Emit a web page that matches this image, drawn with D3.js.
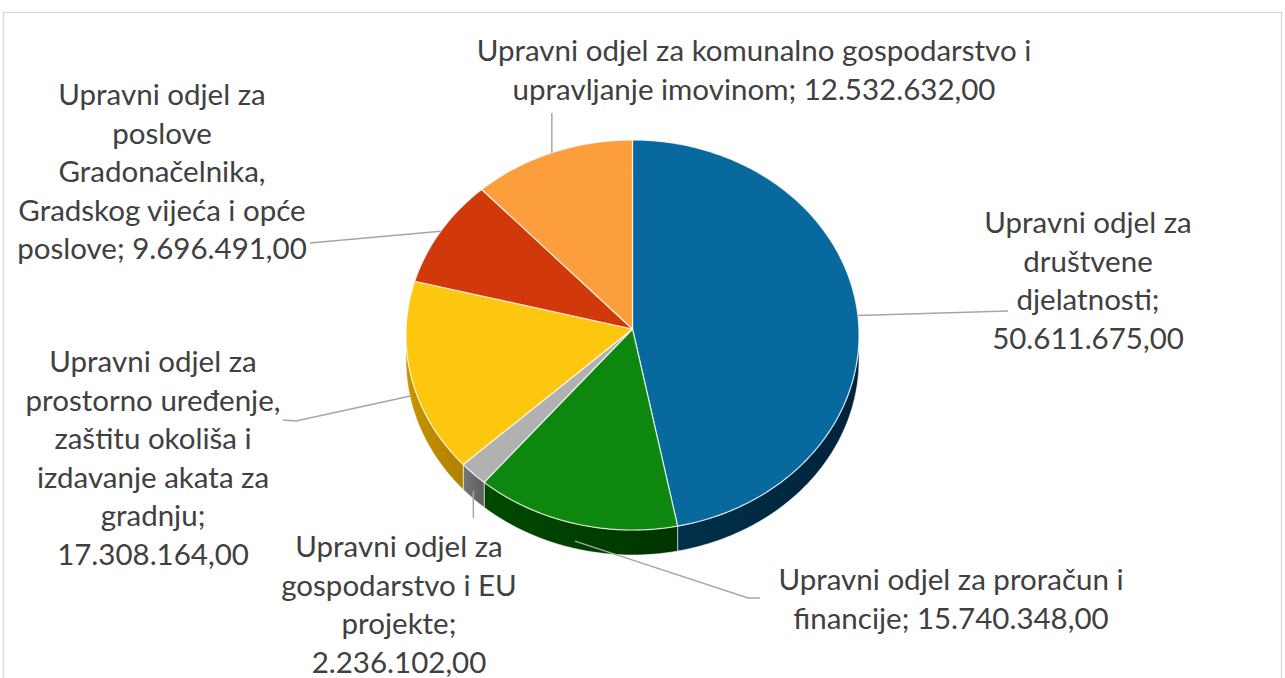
<!DOCTYPE html>
<html>
<head>
<meta charset="utf-8">
<script src="https://cdn.jsdelivr.net/npm/d3@7"></script>
<style>
  body { margin: 0; background: #fff; }
  svg text { font-family: Lato, 'Open Sans', sans-serif; font-size: 29.5px; fill: #404040; }
</style>
</head>
<body>
<div id="chart"></div>
<script>
// data, clockwise from 12 o'clock
const categories = [
  'Upravni odjel za društvene djelatnosti',
  'Upravni odjel za proračun i financije',
  'Upravni odjel za gospodarstvo i EU projekte',
  'Upravni odjel za prostorno uređenje, zaštitu okoliša i izdavanje akata za gradnju',
  'Upravni odjel za poslove Gradonačelnika, Gradskog vijeća i opće poslove',
  'Upravni odjel za komunalno gospodarstvo i upravljanje imovinom'
];
const values = [50611675, 15740348, 2236102, 17308164, 9696491, 12532632];

// how the labels wrap in the original ({v} is the formatted value)
const labelLines = [
  ['Upravni odjel za', 'društvene', 'djelatnosti;', '{v}'],
  ['Upravni odjel za proračun i', 'financije; {v}'],
  ['Upravni odjel za', 'gospodarstvo i EU', 'projekte;', '{v}'],
  ['Upravni odjel za', 'prostorno uređenje,', 'zaštitu okoliša i', 'izdavanje akata za', 'gradnju;', '{v}'],
  ['Upravni odjel za', 'poslove', 'Gradonačelnika,', 'Gradskog vijeća i opće', 'poslove; {v}'],
  ['Upravni odjel za komunalno gospodarstvo i', 'upravljanje imovinom; {v}']
];

const topColors = ['#08699e', '#0e870e', '#b1b1b1', '#fdc60f', '#d1390b', '#fd9e3c'];
const sideColors = [
  ['#01304a', '#00233a'],
  ['#004a00', '#003400'],
  ['#767676', '#5e5e5e'],
  ['#c99400', '#b08000'],
  ['#a02b08', '#8a2406'],
  ['#c87a2c', '#b06a22']
];

// label placement (centre x, first baseline, leader end points)
const labelPos = [
  { x: 1088, y: 233, leader: [[1008, 311]] },
  { x: 951, y: 590, leader: [[748, 598], [760, 598]] },
  { x: 399, y: 557, leader: [[null, 518]] },
  { x: 153, y: 372, leader: [[296, 421], [283, 420]] },
  { x: 162, y: 105, leader: [[310, 243]] },
  { x: 754, y: 61, leader: [[null, 113]] }
];

const width = 1285, height = 678;
const pieCfg = { cx: 632.5, cy: 335, rx: 226.5, ry: 195, apexY: 329, depth: 25 };
const lineHeight = 38.5;

const hr = d3.formatLocale({ decimal: ',', thousands: '.', grouping: [3], currency: ['', ''] });
const fmt = hr.format(',.2f');

let svg = d3.select('#chart')
  .append('svg')
  .attr('width', width)
  .attr('height', height);

// chart area border
svg.append('rect')
  .attr('x', 3.5)
  .attr('y', 12.5)
  .attr('width', 1278)
  .attr('height', 720)
  .attr('fill', '#fff')
  .attr('stroke', '#d9d9d9')
  .attr('stroke-width', 1.3);

let arcs = d3.pie().sort(null).startAngle(0).endAngle(2 * Math.PI)(values);

function pt(a, dy) {
  return [pieCfg.cx + pieCfg.rx * Math.sin(a), pieCfg.cy - pieCfg.ry * Math.cos(a) + (dy || 0)];
}
let line = d3.line();

let defs = svg.append('defs');
sideColors.forEach((c, i) => {
  let g = defs.append('linearGradient')
    .attr('id', 'side' + i)
    .attr('x1', 0).attr('y1', 0).attr('x2', 1).attr('y2', 0);
  g.append('stop').attr('offset', '0%').attr('stop-color', c[0]);
  g.append('stop').attr('offset', '100%').attr('stop-color', c[1]);
});

// sides (only front half is visible)
let sides = svg.append('g');
arcs.forEach((d, i) => {
  let a0 = Math.max(d.startAngle, Math.PI / 2);
  let a1 = Math.min(d.endAngle, 3 * Math.PI / 2);
  if (a1 <= a0) return;
  let n = Math.max(4, Math.ceil((a1 - a0) * 60));
  let top = d3.range(n + 1).map(k => pt(a0 + (a1 - a0) * k / n));
  let bottom = top.slice().reverse().map(p => [p[0], p[1] + pieCfg.depth]);
  sides.append('path')
    .attr('d', line(top.concat(bottom)) + 'Z')
    .attr('fill', `url(#side${i})`)
    .attr('stroke', 'rgba(255,255,255,0.55)')
    .attr('stroke-width', 1)
    .attr('stroke-linejoin', 'round');
});

// top faces
let tops = svg.append('g');
arcs.forEach((d, i) => {
  let n = Math.max(4, Math.ceil((d.endAngle - d.startAngle) * 60));
  let rim = d3.range(n + 1).map(k => pt(d.startAngle + (d.endAngle - d.startAngle) * k / n));
  let apex = [pieCfg.cx, pieCfg.apexY];
  tops.append('path')
    .attr('d', line([apex].concat(rim)) + 'Z')
    .attr('fill', topColors[i])
    .attr('stroke', 'rgba(255,255,255,0.75)')
    .attr('stroke-width', 1.2)
    .attr('stroke-linejoin', 'round');
});

// leader lines
let leaders = svg.append('g');
arcs.forEach((d, i) => {
  let mid = (d.startAngle + d.endAngle) / 2;
  let p = pt(mid);
  if (Math.cos(mid) < 0) p[1] += pieCfg.depth * 0.7;
  let pts = [p].concat(labelPos[i].leader.map(q => [q[0] == null ? p[0] : q[0], q[1]]));
  leaders.append('path')
    .attr('d', line(pts))
    .attr('fill', 'none')
    .attr('stroke', '#a6a6a6')
    .attr('stroke-width', 1.5);
});

// labels
let labels = svg.append('g');
labelLines.forEach((lines, i) => {
  let t = labels.append('text')
    .attr('text-anchor', 'middle')
    .attr('x', labelPos[i].x)
    .attr('y', labelPos[i].y);
  lines.forEach((l, k) => {
    t.append('tspan')
      .attr('x', labelPos[i].x)
      .attr('y', labelPos[i].y + k * lineHeight)
      .text(l.replace('{v}', fmt(values[i])));
  });
  t.append('title').text(categories[i]);
});
</script>
</body>
</html>
